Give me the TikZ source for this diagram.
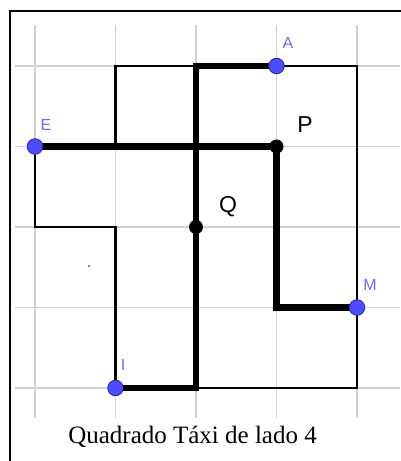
\documentclass[tikz,border=0pt]{standalone}
\usepackage{fontspec}
\setmainfont{Liberation Serif}
\newfontfamily\ptfont{Liberation Sans}

\definecolor{gridgray}{HTML}{D2D2D2}
\definecolor{ptblue}{HTML}{4D4DFF}
\definecolor{ptedge}{HTML}{2B2BA0}
\definecolor{lblblue}{HTML}{6A6AF0}

\tikzset{
  gridline/.style={gridgray, line width=1.5pt},
  taxiline/.style={black, line width=2.4pt},
  pathline/.style={black, line width=6.5pt},
  bluept/.style={circle, fill=ptblue, draw=ptedge, line width=0.9pt, inner sep=0pt, minimum size=15.5pt},
  blackpt/.style={circle, fill=black, inner sep=0pt, minimum size=14pt},
  bluelbl/.style={lblblue, font=\ptfont\fontsize{16}{16}\selectfont},
  blacklbl/.style={black, font=\ptfont\fontsize{23}{23}\selectfont}
}

\begin{document}
\begin{tikzpicture}[x=80.5pt,y=80.5pt]
\useasboundingbox (-35pt,-73pt) rectangle (365pt,388pt);

% grid
\foreach \x in {0,...,4}
   \draw[gridline] (\x,-0.373) -- (\x,4.509);
\foreach \y in {0,...,4}
   \draw[gridline] (-0.248,\y) -- (4.534,\y);

% taxi square of side 4
\draw[taxiline] (1,4) -- (4,4) -- (4,0) -- (1,0) -- (1,2) -- (0,2) -- (0,3) -- (1,3) -- cycle;

\coordinate (A) at (3,4);
\coordinate (E) at (0,3);
\coordinate (P) at (3,3);
\coordinate (Q) at (2,2);
\coordinate (M) at (4,1);
\coordinate (I) at (1,0);
\coordinate (c1) at (2,4);
\coordinate (c2) at (2,0);
\coordinate (c3) at (3,1);

% taxi paths
\draw[pathline] (A) -- (c1) -- (c2) -- (I);
\draw[pathline] (E) -- (P) -- (c3) -- (M);

\node[bluept] (nA) at (A) {};
\node[bluept] (nE) at (E) {};
\node[bluept] (nM) at (M) {};
\node[bluept] (nI) at (I) {};
\node[blackpt] (nP) at (P) {};
\node[blackpt] (nQ) at (Q) {};

\node[bluelbl] at (3.143,4.286) {A};
\node[bluelbl] at (0.137,3.267) {E};
\node[bluelbl] at (4.161,1.280) {M};
\node[bluelbl] at (1.093,0.286) {I};
\node[blacklbl] at (3.354,3.267) {P};
\node[blacklbl] at (2.398,2.248) {Q};

\fill[gray] (0.671,1.516) circle (1.4pt);

\node[font=\fontsize{25}{25}\selectfont] (cap) at (1.957,-0.609) {Quadrado Táxi de lado 4};

% frame
\draw[line width=1.8pt] (-25pt,-80pt) -- (-25pt,377pt) -- (370pt,377pt);
\end{tikzpicture}
\end{document}
